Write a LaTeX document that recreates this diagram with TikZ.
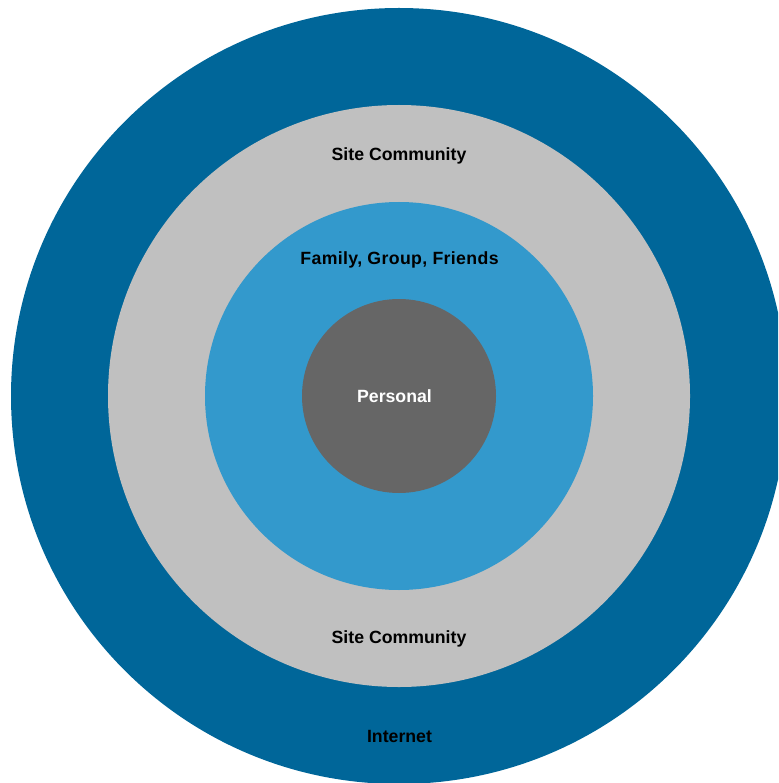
\documentclass[tikz,border=0pt]{standalone}
\usepackage{fontspec}
\setmainfont{Liberation Sans}
\definecolor{ringOuter}{HTML}{006699}
\definecolor{ringGray}{HTML}{C0C0C0}
\definecolor{ringBlue}{HTML}{3399CC}
\definecolor{ringCore}{HTML}{666666}
\tikzset{
  ring/.style={draw=none},
  lbl/.style={font=\fontsize{17.7}{20}\selectfont\bfseries, anchor=base, inner sep=0pt, text=black},
}
\begin{document}
\begin{tikzpicture}[x=1pt,y=-1pt]
\useasboundingbox (0,0) rectangle (778,783);
\begin{scope}
\clip (0,0) rectangle (778,783);
\fill[ringOuter] (399,396) circle (388);
\fill[ringGray] (399,396) circle (291);
\fill[ringBlue] (399,396) circle (194);
\fill[ringCore] (399,396) circle (97);
\end{scope}
\node[lbl] (site1) at (399,160.5) {Site Community};
\node[lbl] (family) at (399.5,264.5) {\addfontfeatures{LetterSpace=2}Family, Group, Friends};
\node[lbl, text=white] (personal) at (394.5,402.5) {Personal};
\node[lbl] (site2) at (399,643.5) {Site Community};
\node[lbl] (internet) at (399.5,742.5) {Internet};
\end{tikzpicture}
\end{document}
